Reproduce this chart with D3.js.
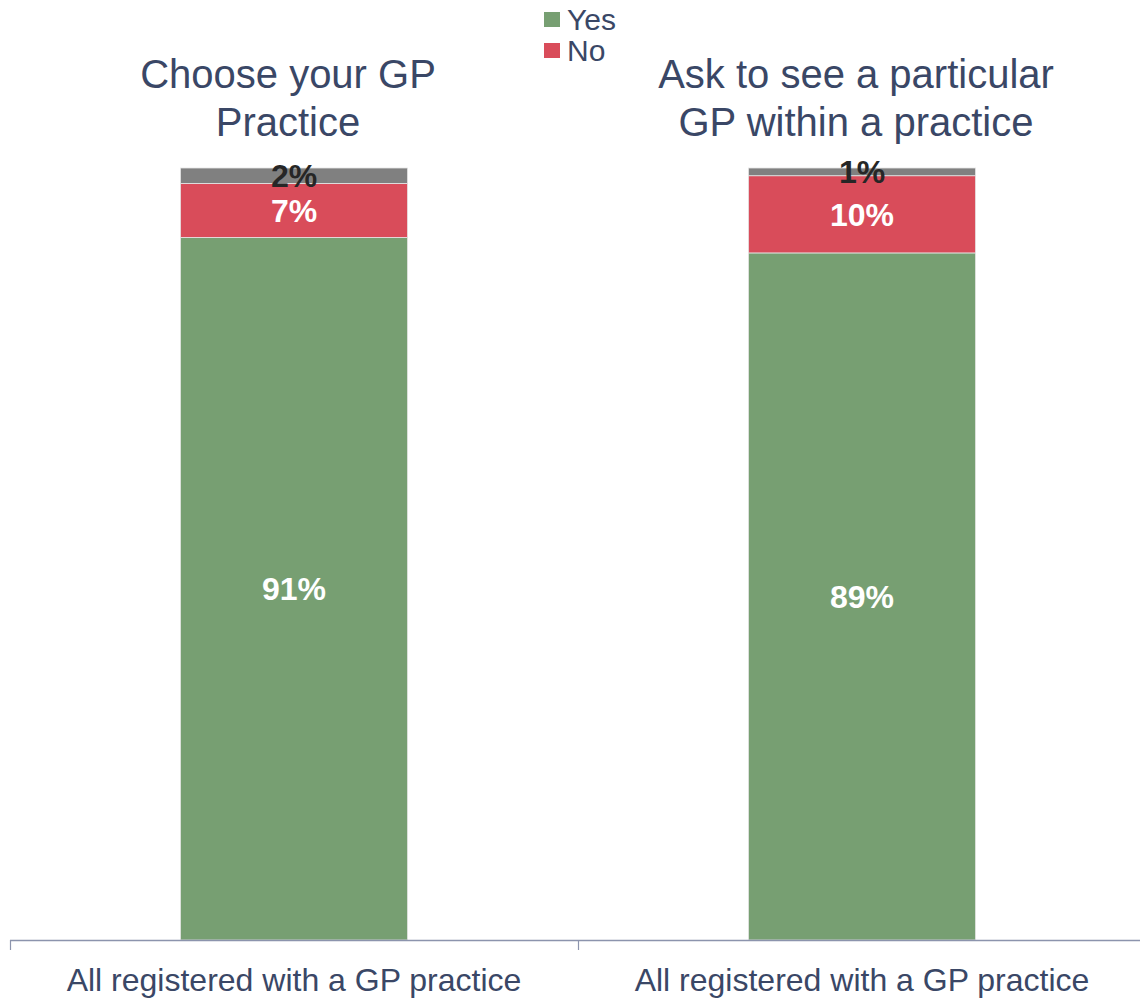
<!DOCTYPE html>
<html><head><meta charset="utf-8">
<script src="https://cdn.jsdelivr.net/npm/d3@7"></script>
<style>body{margin:0;background:#fff;}svg{display:block;font-family:Arial,"Liberation Sans",sans-serif;}</style>
</head><body>
<svg id="chart" width="1140" height="1000"></svg>
<script>
const panels = ["Choose your GP Practice", "Ask to see a particular GP within a practice"];
const titleLines = [["Choose your GP", "Practice"], ["Ask to see a particular", "GP within a practice"]];
const categories = ["All registered with a GP practice", "All registered with a GP practice"];
const seriesNames = ["Yes", "No", "Don't know"];
const yesValues = [91, 89];
const noValues = [7, 10];
const dkValues = [2, 1];
const legendNames = ["Yes", "No"];

const colors = {"Yes": "#779f72", "No": "#d94c5a", "Don't know": "#808080"};
const labelColors = {"Yes": "#ffffff", "No": "#ffffff", "Don't know": "#262626"};
const textColor = "#3a4766";

const svg = d3.select("#chart");
const x0 = 10, x1 = 1146;
const baseY = 940, topY = 168;

const panelScale = d3.scaleBand().domain(d3.range(panels.length)).range([x0, x1]).paddingInner(0).paddingOuter(0);
const y = d3.scaleLinear().domain([0, 100]).range([baseY, topY]);

const rows = panels.map((p, i) => ({i, Yes: yesValues[i], No: noValues[i], "Don't know": dkValues[i]}));
const stack = d3.stack().keys(seriesNames)(rows);

panels.forEach((p, i) => {
  const px = panelScale(i);
  const inner = d3.scaleBand().domain([categories[i]]).range([px, px + panelScale.bandwidth()]).paddingInner(0.6).paddingOuter(0.3);
  const g = svg.append("g");
  stack.forEach(layer => {
    const d = layer[i];
    const x = inner(categories[i]);
    const w = inner.bandwidth();
    g.append("rect")
      .attr("x", x).attr("width", w)
      .attr("y", y(d[1])).attr("height", y(d[0]) - y(d[1]))
      .attr("fill", colors[layer.key])
      .attr("stroke", "#e6e6e6").attr("stroke-width", 0.8);
    g.append("text")
      .attr("x", x + w / 2)
      .attr("y", (y(d[0]) + y(d[1])) / 2)
      .attr("dy", "0.36em")
      .attr("text-anchor", "middle")
      .attr("font-size", 32).attr("font-weight", "bold")
      .attr("fill", labelColors[layer.key])
      .text(d.data[layer.key] + "%");
  });
  // title
  const cx = px + panelScale.bandwidth() / 2 - 6;
  titleLines[i].forEach((line, k) => {
    svg.append("text")
      .attr("x", cx).attr("y", 88 + k * 48)
      .attr("text-anchor", "middle")
      .attr("font-size", 40).attr("fill", textColor)
      .text(line);
  });
  // category
  svg.append("text")
    .attr("x", inner(categories[i]) + inner.bandwidth() / 2)
    .attr("y", 991)
    .attr("text-anchor", "middle")
    .attr("font-size", 32).attr("fill", textColor)
    .text(categories[i]);
});

// axis
const axisG = svg.append("g");
axisG.append("line").attr("x1", x0).attr("x2", 1140).attr("y1", baseY + 0.5).attr("y2", baseY + 0.5)
  .attr("stroke", "#8c94ad").attr("stroke-width", 1.5);
d3.range(panels.length).forEach(i => {
  const tx = Math.round(panelScale(i)) + 0.5;
  axisG.append("line").attr("x1", tx).attr("x2", tx).attr("y1", baseY).attr("y2", baseY + 10)
    .attr("stroke", "#8c94ad").attr("stroke-width", 1.2);
});

// legend
const lg = svg.append("g").attr("transform", "translate(544,12)");
legendNames.forEach((n, k) => {
  lg.append("rect").attr("x", 0).attr("y", k * 31).attr("width", 16).attr("height", 15).attr("fill", colors[n]);
  lg.append("text").attr("x", 23).attr("y", k * 31 + 18)
    .attr("font-size", 30).attr("fill", textColor).text(n);
});
</script>
</body></html>
